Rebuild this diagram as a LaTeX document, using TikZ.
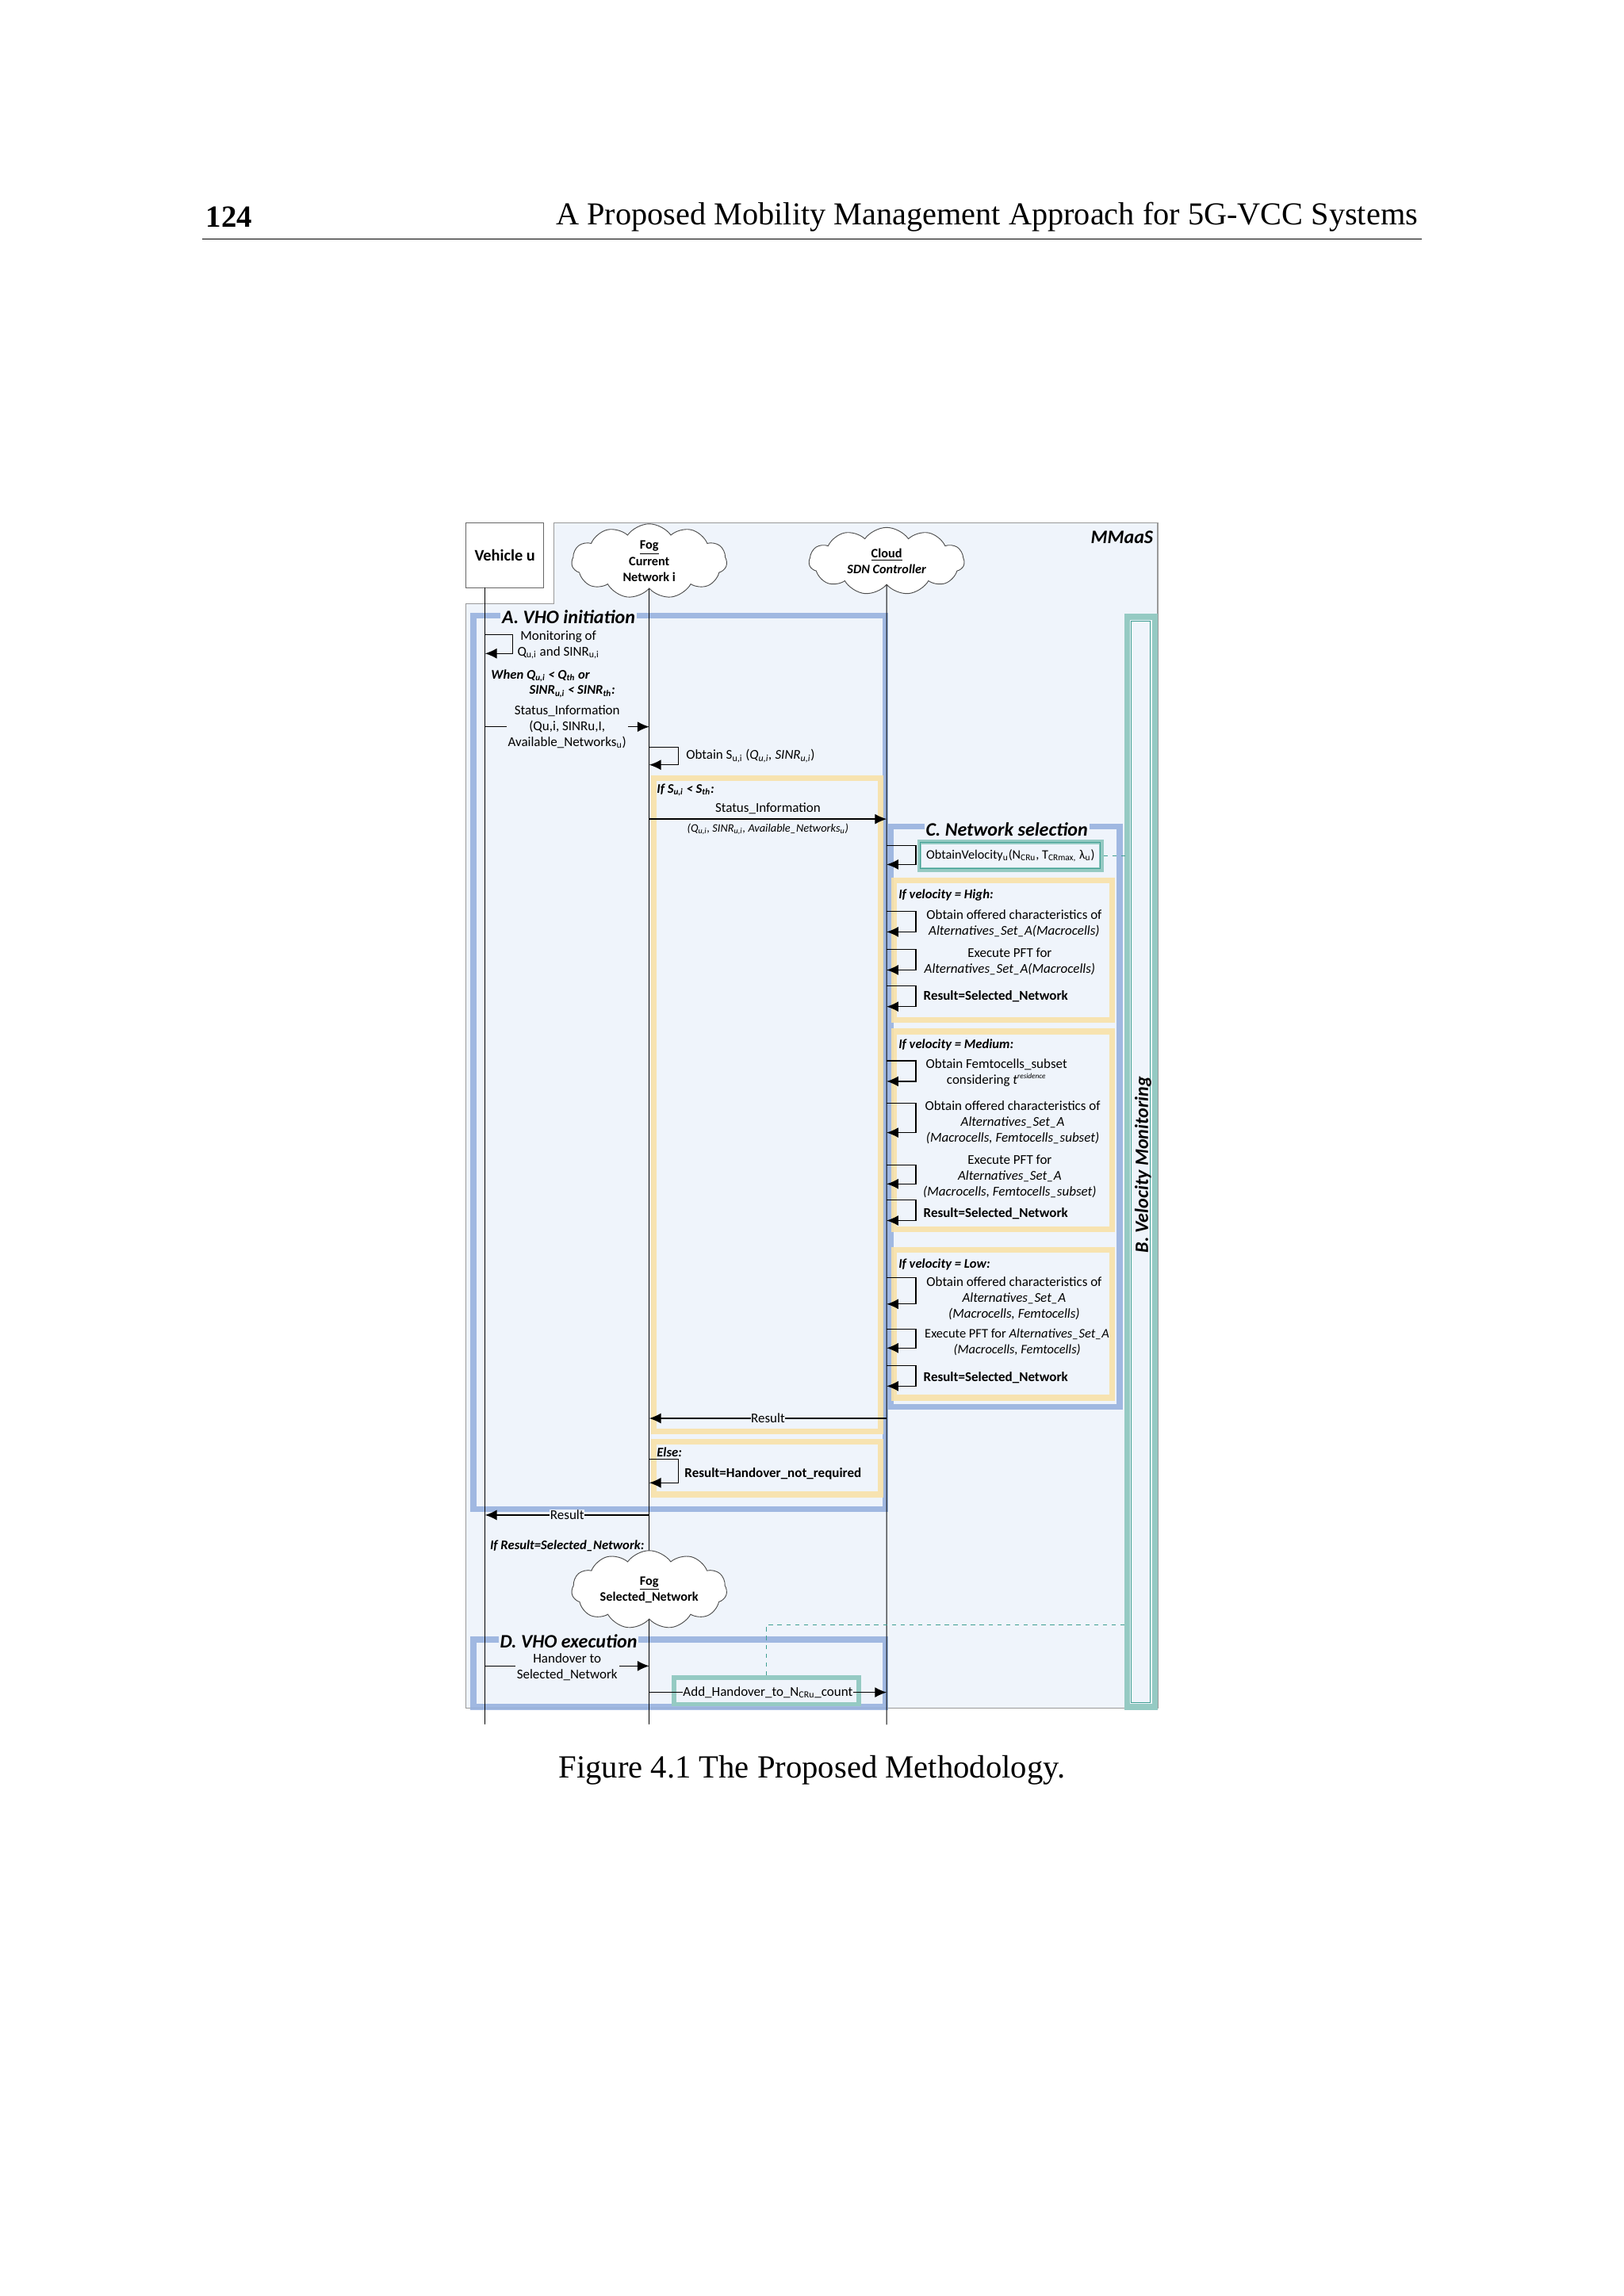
\documentclass[tikz,border=0pt]{standalone}
\usepackage{fontspec}
\setmainfont{Liberation Serif}
\newfontfamily\cbr{Carlito}
\usetikzlibrary{shapes.symbols,arrows.meta}
\definecolor{bg}{HTML}{EFF4FB}
\definecolor{bbl}{HTML}{93AEDD}
\definecolor{yel}{HTML}{F8E2A8}
\definecolor{grn}{HTML}{3E9E92}
\newcommand{\ts}[1]{\textsubscript{#1}}
\begin{document}
\begin{tikzpicture}[x=1pt,y=-1pt,
  stxt/.style={font=\cbr\fontsize{9.2}{10.8}\selectfont,align=center,inner sep=1pt},
  bi/.style={font=\cbr\bfseries\itshape\fontsize{9}{11}\selectfont},
  bo/.style={font=\cbr\bfseries\fontsize{9.2}{11}\selectfont},
  msg/.style={-{Latex[length=8pt,width=7pt]},line width=0.7pt},
  blu/.style={draw=bbl,line width=4pt,opacity=0.85},
  yb/.style={draw=yel,line width=4pt,opacity=0.9},
  gb/.style={draw=grn!55,line width=4pt},
  life/.style={line width=0.6pt},
  cld/.style={cloud,cloud puffs=11,cloud puff arc=110,aspect=2.3,draw=black!70,fill=white,line width=0.5pt,minimum width=106pt,minimum height=46pt,inner sep=0pt,align=center,font=\cbr\bfseries\fontsize{8.8}{11}\selectfont},
  lab/.style={font=\cbr\bfseries\itshape\fontsize{13}{14}\selectfont,inner sep=0pt}]
\useasboundingbox (0,0) rectangle (1108,1567);
% header
\node[anchor=west,font=\bfseries\fontsize{21}{24}\selectfont] (pg) at (137,148) {124};
\node[anchor=east,font=\fontsize{21.8}{24}\selectfont] (ttl) at (971,148) {A Proposed Mobility Management Approach for 5G-VCC Systems};
\draw[line width=0.7pt] (138,163) coordinate (r1) -- (970,163) coordinate (r2);
% outer MMaaS
\fill[bg] (378,357) -- (790,357) -- (790,1166) -- (318,1166) -- (318,412) -- (378,412) -- cycle;
\draw[black!40,line width=0.6pt] (378,412) -- (378,357) -- (790,357) -- (790,1166) -- (318,1166) -- (318,412) -- (378,412);
\node[anchor=north east,lab] (mm) at (787,362) {MMaaS};
\node[draw=black!60,fill=white,minimum width=53pt,minimum height=44pt,font=\cbr\bfseries\fontsize{11}{12}\selectfont] (veh) at (344.5,379) {Vehicle u};
% containers
\draw[blu] (323,420) rectangle (604,1030);
\draw[gb] (769,421) rectangle (788,1165);
\draw[grn,line width=0.7pt] (772,424) rectangle (785,1162);
\draw[yb] (446,531) rectangle (601,977);
\draw[yb] (446,984) rectangle (601,1020);
\draw[blu] (608,564) rectangle (764,960);
\draw[yb] (610,601) rectangle (759,696);
\draw[yb] (610,704) rectangle (759,839);
\draw[yb] (610,853) rectangle (759,954);
\draw[blu] (323,1119) rectangle (604,1165);
% labels
\node[lab,fill=bg,inner sep=1pt] (la) at (388,421) {A. VHO initiation};
\node[lab,fill=bg,inner sep=1pt] (lc) at (687,566) {C. Network selection};
\node[lab,fill=bg,inner sep=1pt] (ld) at (388,1120) {D. VHO execution};
\node[lab,rotate=90] (lb) at (780,795) {B. Velocity Monitoring};
% clouds
\node[cld] (fog) at (443,383) {\underline{Fog}\\Current\\Network i};
\node[cld] (cl) at (605,383) {\underline{Cloud}\\\itshape SDN Controller};
% lifelines
\coordinate (vb) at (331,1177); \coordinate (fb) at (443,1177); \coordinate (cb) at (605,1177);
\draw[life] (veh.south -| vb) -- (vb);
\draw[life] (fog.south) -- (fb);
\draw[life] (cl.south) -- (cb);
\node[cld] (fog2) at (443,1085) {\underline{Fog}\\Selected\_Network};
% green boxes
\node[draw=grn!55,line width=3pt,fill=bg,minimum width=124pt,minimum height=19pt,inner sep=0pt] (ov) at (689.5,584) {};
\draw[grn,line width=0.5pt] ([xshift=2pt,yshift=2pt]ov.south west) rectangle ([xshift=-2pt,yshift=-2pt]ov.north east);
\node[stxt,font=\cbr\fontsize{8.8}{10}\selectfont] (ovt) at (689.5,584) {ObtainVelocity\ts{u}(N\ts{CRu}, T\ts{CRmax,} λ\ts{u})};
\draw[grn,dashed,line width=0.7pt] (ov.east) -- (769,584) coordinate (ov2);
\node[draw=grn!55,line width=3pt,minimum width=126pt,minimum height=18pt,inner sep=0pt] (ad) at (523,1154) {};
\draw[grn,dashed,line width=0.7pt] (ad.north) -- (523,1109) coordinate (dd1) -- (769,1109) coordinate (dd2);
% self loops
\foreach \x/\a/\b/\w in {331/433/446/19, 443/510/522/20, 605/577/590/20,
  605/622/636/20, 605/648/662/20, 605/673/687/20,
  605/724/738/20, 605/753/773/20, 605/795/808/20, 605/819/833/20,
  605/872/890/20, 605/907/920/20, 605/932/946/20, 443/996/1012/20}
  \draw[msg] (\x,\a) -- ++(\w,0) |- (\x,\b);
% A texts
\node[stxt] (t1) at (381,440) {Monitoring of\\Q\ts{u,i} and SINR\ts{u,i}};
\node[stxt,bi,anchor=west] (t2) at (334,461) {When Q\ts{u,i} < Q\ts{th} or};
\node[stxt,bi,anchor=west] (t3) at (360,472) {SINR\ts{u,i} < SINR\ts{th}:};
\draw[msg] (331,496) -- (443,496);
\node[stxt,fill=bg] (t4) at (387,496) {Status\_Information\\(Qu,i, SINRu,I,\\Available\_Networks\ts{u})};
\node[stxt,anchor=west] (t5) at (467,516) {Obtain S\ts{u,i} (\textit{Q\ts{u,i}, SINR\ts{u,i}})};
\node[stxt,bi,anchor=west] (t6) at (447,539) {If S\ts{u,i} < S\ts{th}:};
\draw[msg] (443,559) -- (605,559);
\node[stxt,fill=bg] (t7) at (524,552) {Status\_Information};
\node[stxt,font=\cbr\itshape\fontsize{7.8}{9}\selectfont] (t8) at (524,566) {(Q\ts{u,i}, SINR\ts{u,i}, Available\_Networks\ts{u})};
% high
\node[stxt,bi,anchor=west] (h0) at (612,611) {If velocity = High:};
\node[stxt] (h1) at (692,630) {Obtain offered characteristics of\\\itshape Alternatives\_Set\_A(Macrocells)};
\node[stxt] (h2) at (689,656) {Execute PFT for\\\itshape Alternatives\_Set\_A(Macrocells)};
\node[stxt,bo,anchor=west] (h3) at (629,680) {Result=Selected\_Network};
% medium
\node[stxt,bi,anchor=west] (m0) at (612,713) {If velocity = Medium:};
\node[stxt] (m1) at (680,732) {Obtain Femtocells\_subset\\considering \textit{t}\textsuperscript{\itshape\tiny residence}};
\node[stxt] (m2) at (691,766) {Obtain offered characteristics of\\\itshape Alternatives\_Set\_A\\\itshape (Macrocells, Femtocells\_subset)};
\node[stxt] (m3) at (689,803) {Execute PFT for\\\itshape Alternatives\_Set\_A\\\itshape (Macrocells, Femtocells\_subset)};
\node[stxt,bo,anchor=west] (m4) at (629,828) {Result=Selected\_Network};
% low
\node[stxt,bi,anchor=west] (l0) at (612,863) {If velocity = Low:};
\node[stxt] (l1) at (692,886) {Obtain offered characteristics of\\\itshape Alternatives\_Set\_A\\\itshape (Macrocells, Femtocells)};
\node[stxt,font=\cbr\fontsize{8.9}{10.8}\selectfont] (l2) at (694,916) {Execute PFT for \textit{Alternatives\_Set\_A}\\\itshape (Macrocells, Femtocells)};
\node[stxt,bo,anchor=west] (l3) at (629,940) {Result=Selected\_Network};
% results
\draw[msg] (605,968) -- (443,968);
\node[stxt,fill=bg,inner sep=0.3pt] (r1t) at (524,968) {Result};
\node[stxt,bi,anchor=west] (e0) at (447,991) {Else:};
\node[stxt,bo,anchor=west] (e1) at (466,1006) {Result=Handover\_not\_required};
\draw[msg] (443,1034) -- (331,1034);
\node[stxt,fill=bg,inner sep=0.3pt] (r2t) at (387,1034) {Result};
\node[stxt,bi] (ir) at (387,1055) {If Result=Selected\_Network:};
% D
\draw[msg] (331,1137) -- (443,1137);
\node[stxt,fill=bg] (d1) at (387,1138) {Handover to\\Selected\_Network};
\draw[msg] (443,1155) -- (605,1155);
\node[stxt,fill=bg,inner sep=0.5pt] (d2) at (524,1155) {Add\_Handover\_to\_N\ts{CRu}\_count};
% caption
\node[font=\fontsize{22}{26}\selectfont] (cap) at (554,1208) {Figure 4.1 The Proposed Methodology.};
\end{tikzpicture}
\end{document}
